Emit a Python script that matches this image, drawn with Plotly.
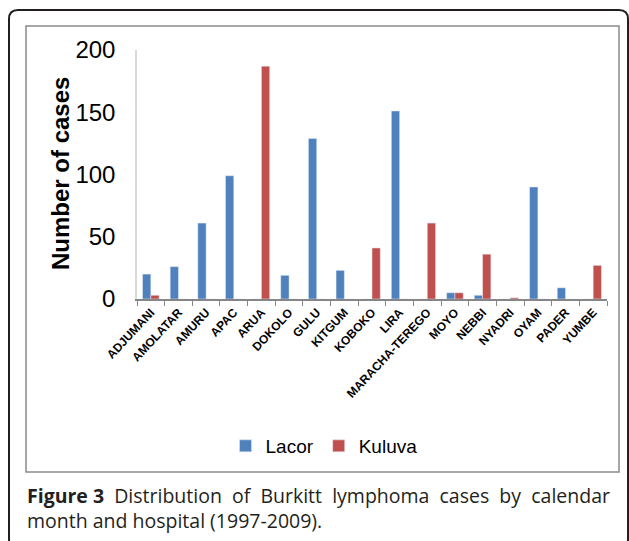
import plotly.graph_objects as go

districts = ["ADJUMANI", "AMOLATAR", "AMURU", "APAC", "ARUA", "DOKOLO", "GULU", "KITGUM",
             "KOBOKO", "LIRA", "MARACHA-TEREGO", "MOYO", "NEBBI", "NYADRI", "OYAM", "PADER", "YUMBE"]
lacor = [20, 26, 61, 99, 0, 19, 129, 23, 0, 151, 0, 5, 3, 0, 90, 9, 0]
kuluva = [3, 0, 0, 0, 187, 0, 0, 0, 41, 0, 61, 5, 36, 1, 0, 0, 27]
y_ticks = [0, 50, 100, 150, 200]

W, H = 629, 541
L, R, T, B = 137, 607, 50, 299


def px(x):
    return (x - L) / (R - L)


def py(y):
    return (B - y) / (B - T)


fig = go.Figure()
fig.add_trace(go.Bar(name="Lacor", x=districts, y=lacor, marker_color="#4f81bd"))
fig.add_trace(go.Bar(name="Kuluva", x=districts, y=kuluva, marker_color="#c0504d"))

# outer rounded frame
r = 9
x0, y0, x1, y1 = 9, 10, 628, 548
path = (f"M {px(x0)},{py(y1 - r)} L {px(x0)},{py(y0 + r)} Q {px(x0)},{py(y0)} {px(x0 + r)},{py(y0)} "
        f"L {px(x1 - r)},{py(y0)} Q {px(x1)},{py(y0)} {px(x1)},{py(y0 + r)} L {px(x1)},{py(y1 - r)} "
        f"Q {px(x1)},{py(y1)} {px(x1 - r)},{py(y1)} L {px(x0 + r)},{py(y1)} Q {px(x0)},{py(y1)} {px(x0)},{py(y1 - r)} Z")
shapes = [
    dict(type="path", xref="paper", yref="paper", path=path, line=dict(color="#231f20", width=2)),
    dict(type="rect", xref="paper", yref="paper", x0=px(26), x1=px(619), y0=py(472), y1=py(26),
         line=dict(color="#8a8a8a", width=1.5)),
]

sp = " \u00a0"
line1 = "<b>Figure\u00a03</b>" + sp + sp.join(
    ["Distribution", "of", "Burkitt", "lymphoma", "cases", "by", "calendar"])

annotations = [
    dict(text="<b>Number of cases</b>", xref="paper", yref="paper", x=px(60), y=py(174),
         xanchor="center", yanchor="middle",
         textangle=-90, showarrow=False, font=dict(family="Liberation Sans, Arial", size=24, color="#000")),
    dict(text=line1, xref="paper", yref="paper",
         x=px(25), y=py(495), xanchor="left", yanchor="middle", showarrow=False,
         font=dict(family="Open Sans", size=19.5, color="#231f20")),
    dict(text="month and hospital (1997-2009).", xref="paper", yref="paper",
         x=px(25), y=py(520), xanchor="left", yanchor="middle", showarrow=False,
         font=dict(family="Open Sans", size=19.5, color="#231f20")),
]

fig.update_layout(
    width=W, height=H,
    margin=dict(l=L, r=W - R, t=T, b=H - B, autoexpand=False),
    paper_bgcolor="white", plot_bgcolor="white",
    barmode="group", bargap=0.4, bargroupgap=0,
    showlegend=True,
    legend=dict(orientation="h", x=px(324), y=py(446), xanchor="center", yanchor="middle",
                font=dict(family="Liberation Sans, Arial", size=19, color="#000"),
                itemwidth=30, traceorder="normal"),
    shapes=shapes,
    annotations=annotations,
    xaxis=dict(
        type="category", tickangle=-47, tickson="boundaries", ticks="outside", ticklen=5,
        tickcolor="#868686", showline=True, linecolor="#868686", linewidth=1.5,
        tickfont=dict(family="Liberation Sans, Arial", size=12, color="#000", weight="bold"),
        showgrid=False, zeroline=False, fixedrange=True,
    ),
    yaxis=dict(
        range=[0, 200], tickvals=y_ticks, ticktext=[str(v) for v in y_ticks], showgrid=False,
        zeroline=False, showline=True, linecolor="#d9d9d9", linewidth=1.5, ticks="",
        ticklabelstandoff=15, fixedrange=True,
        tickfont=dict(family="Liberation Sans, Arial", size=24, color="#000"),
    ),
)

fig.write_html("out.html", post_script="document.body.style.margin='0px';",
               config={"displayModeBar": False})
